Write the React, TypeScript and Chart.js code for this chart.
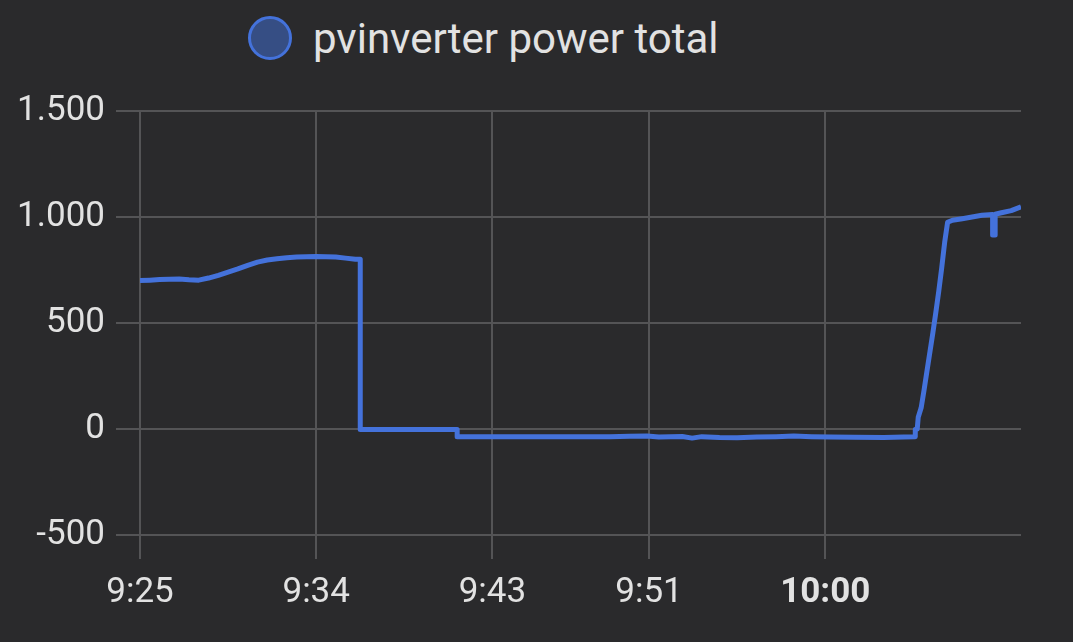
import React, { useEffect, useRef } from "react";
import { Chart, registerables } from "chart.js";

Chart.register(...registerables);

// x axis: minutes after 9:25
const tickMinutes = [0, 9, 18, 26, 35];
const tickLabels = ["9:25", "9:34", "9:43", "9:51", "10:00"];
const boldTick = 35;

const seriesLabel = "pvinverter power total";

const minutes = [
  0, 0.5, 1, 1.5, 2, 2.5, 3, 3.5, 4, 4.5, 5, 5.5, 6, 6.5, 7, 7.5, 8, 8.5, 9, 9.5, 10, 10.5, 11, 11.25,
  11.25, 13, 15, 16.2,
  16.2, 18, 20, 22, 24, 25, 25.9, 26.5, 27.7, 28.2, 28.7, 29.6, 30.5, 31.5, 32.5, 33.4, 34.3, 35.3, 36.5, 38, 39, 39.6,
  39.6, 39.7, 39.75, 39.9, 40.05, 40.2, 40.35, 40.5, 40.65, 40.8, 40.95, 41.1, 41.25,
  41.5, 42, 42.5, 43, 43.55, 43.55, 43.68, 43.68, 44, 44.5, 45,
];
const power = [
  700, 702, 705, 706, 708, 704, 702, 712, 725, 740, 755, 772, 787, 797, 803, 808, 811, 813, 814, 813, 811, 806, 801, 801,
  -2, -2, -2, -2,
  -36, -36, -36, -36, -36, -34, -33, -38, -35, -43, -36, -40, -41, -38, -36, -33, -36, -38, -39, -40, -38, -37,
  -2, 0, 55, 100, 185, 275, 365, 455, 550, 650, 760, 880, 975,
  985, 992, 1000, 1008, 1012, 915, 915, 1013, 1020, 1030, 1048,
];

const bg = "#2a2a2c";
const gridColor = "#545456";
const textColor = "#e2e2e2";
const lineColor = "#4472db";

function fmt(v: number): string {
  const s = String(Math.abs(v)).replace(/\B(?=(\d{3})+(?!\d))/g, ".");
  return v < 0 ? "-" + s : s;
}

export default function App() {
  const ref = useRef<HTMLCanvasElement>(null);

  useEffect(() => {
    if (!ref.current) return;
    const chart = new Chart(ref.current, {
      type: "line",
      data: {
        datasets: [
          {
            label: seriesLabel,
            data: minutes.map((m, i) => ({ x: m, y: power[i] })),
            borderColor: lineColor,
            backgroundColor: lineColor,
            borderWidth: 5,
            pointRadius: 0,
            tension: 0,
            borderJoinStyle: "round",
            fill: false,
          },
        ],
      },
      options: {
        animation: false,
        responsive: true,
        maintainAspectRatio: false,
        layout: { padding: { top: 111, right: 52, left: 0, bottom: 0 } },
        plugins: { legend: { display: false }, tooltip: { enabled: false } },
        scales: {
          x: {
            type: "linear",
            min: 0,
            max: 45,
            afterBuildTicks: (s: any) => {
              s.ticks = tickMinutes.map((v) => ({ value: v }));
            },
            afterFit: (s: any) => {
              s.height = 107;
            },
            ticks: {
              autoSkip: false,
              maxRotation: 0,
              padding: 13,
              color: textColor,
              callback: (v: any) => {
                const i = tickMinutes.indexOf(Number(v));
                return i >= 0 ? tickLabels[i] : "";
              },
              font: (ctx: any) => ({
                family: "Roboto",
                size: 35,
                weight: ctx.tick && ctx.tick.value === boldTick ? "bold" : "normal",
              }),
            },
            grid: { color: gridColor, lineWidth: 2, tickLength: 24, drawTicks: true },
            border: { display: false },
          },
          y: {
            min: -500,
            max: 1500,
            afterFit: (s: any) => {
              s.width = 140;
            },
            ticks: {
              stepSize: 500,
              padding: 11,
              color: textColor,
              font: { family: "Roboto", size: 35 },
              callback: (v: any) => fmt(Number(v)),
            },
            grid: { color: gridColor, lineWidth: 2, tickLength: 24, drawTicks: true },
            border: { display: false },
          },
        },
      },
    } as any);
    return () => chart.destroy();
  }, []);

  return (
    <div
      style={{
        position: "fixed",
        left: 0,
        top: 0,
        width: 1073,
        height: 642,
        background: bg,
        overflow: "hidden",
      }}
    >
      <div
        style={{
          position: "absolute",
          left: 248,
          top: 15,
          height: 46,
          display: "flex",
          alignItems: "center",
          fontFamily: "Roboto",
          fontSize: 42,
          color: textColor,
          whiteSpace: "nowrap",
        }}
      >
        <span
          style={{
            display: "inline-block",
            width: 44,
            height: 44,
            borderRadius: "50%",
            background: "rgba(66,114,219,0.5)",
            border: `3px solid ${lineColor}`,
            boxSizing: "border-box",
            marginRight: 21,
          }}
        />
        <span>{seriesLabel}</span>
      </div>
      <div style={{ position: "absolute", left: 0, top: 0, width: 1073, height: 642 }}>
        <canvas ref={ref} />
      </div>
    </div>
  );
}
